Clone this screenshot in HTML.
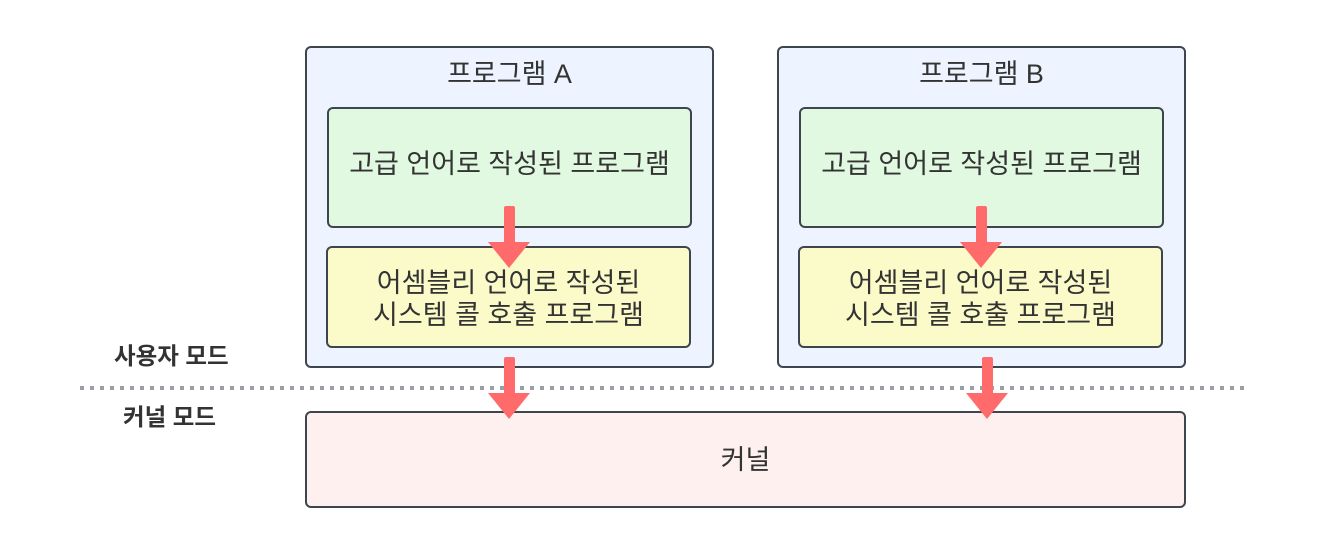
<!DOCTYPE html>
<html><head><meta charset="utf-8"><style>
body{margin:0;width:1328px;height:553px;background:#fff;position:relative;font-family:"Liberation Sans","Noto Sans CJK KR",sans-serif;color:#333;overflow:hidden}
.b{position:absolute;box-sizing:border-box;border:2.5px solid #3f454d;border-radius:6px;display:flex;align-items:center;justify-content:center;text-align:center;font-size:27px;line-height:32px;white-space:nowrap}
.o{background:#edf4ff;align-items:flex-start;padding-top:10px}
.g{background:#e0f9e0}
.y{background:#fbfbca}
.k{background:#fdf0ee}
.l{position:absolute;font-weight:bold;font-size:23.5px;color:#333}
</style></head><body>
<div class="b o" style="left:305px;top:46px;width:409px;height:322px">프로그램 A</div>
<div class="b o" style="left:777px;top:46px;width:409px;height:322px">프로그램 B</div>
<div class="b g" style="left:327px;top:107px;width:365px;height:121px;padding-bottom:8px">고급 언어로 작성된 프로그램</div>
<div class="b g" style="left:799px;top:107px;width:365px;height:121px;padding-bottom:8px">고급 언어로 작성된 프로그램</div>
<div class="b y" style="left:326px;top:246px;width:365px;height:102px;padding-top:4px">어셈블리 언어로 작성된<br>시스템 콜 호출 프로그램</div>
<div class="b y" style="left:798px;top:246px;width:365px;height:102px;padding-top:4px">어셈블리 언어로 작성된<br>시스템 콜 호출 프로그램</div>
<div class="b k" style="left:305px;top:411px;width:881px;height:97px">커널</div>
<div class="l" style="left:114px;top:337px">사용자 모드</div>
<div class="l" style="left:123px;top:398px">커널 모드</div>
<svg width="1328" height="553" style="position:absolute;left:0;top:0">
<line x1="80" y1="388" x2="1250" y2="388" stroke="#9aa0a6" stroke-width="4" stroke-dasharray="4,6"/>
<g fill="#ff6b6b">
<rect x="504" y="206" width="11" height="38" rx="2"/><polygon points="488,242 530,242 509,268"/>
<rect x="976" y="206" width="11" height="38" rx="2"/><polygon points="960,242 1002,242 981,268"/>
<rect x="504" y="357" width="11" height="38" rx="2"/><polygon points="488,393 530,393 509,419"/>
<rect x="982" y="357" width="11" height="38" rx="2"/><polygon points="966,393 1008,393 987,419"/>
</g>
</svg>
</body></html>
